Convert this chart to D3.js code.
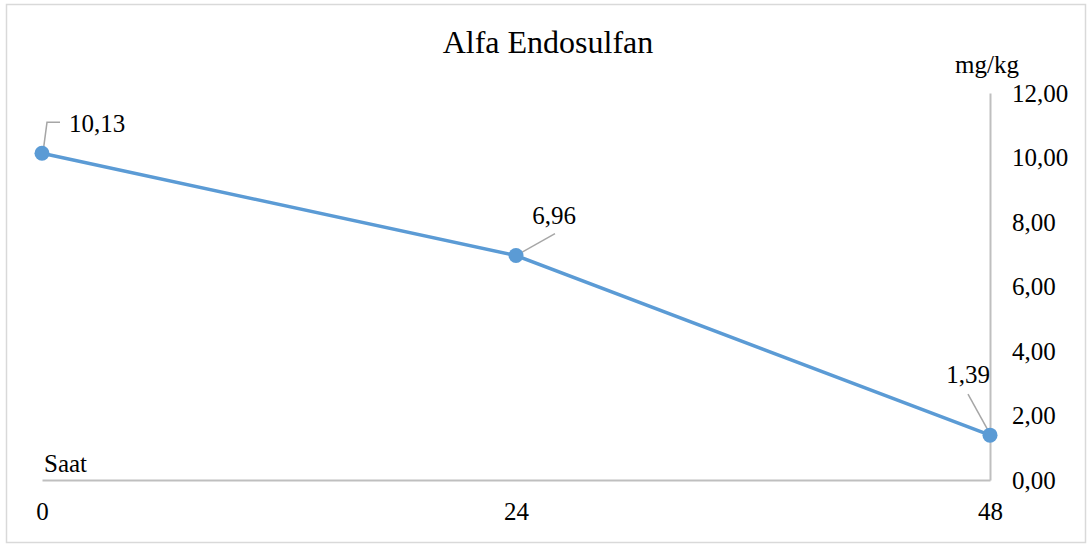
<!DOCTYPE html>
<html>
<head>
<meta charset="utf-8">
<script src="https://cdn.jsdelivr.net/npm/d3@7"></script>
<style>
  html, body { margin: 0; padding: 0; background: #fff; }
</style>
</head>
<body>
<svg id="chart" width="1087" height="546"></svg>
<script>
const title = "Alfa Endosulfan";
const hours = [0, 24, 48];
const values = [10.13, 6.96, 1.39];
const xTicks = [0, 24, 48];
const yTicks = [0, 2, 4, 6, 8, 10, 12];
const yUnit = "mg/kg";
const xUnit = "Saat";

const FONT = '"Liberation Serif", "Times New Roman", serif';
const fmt = v => d3.format(".2f")(v).replace(".", ",");

const svg = d3.select("#chart");

// outer border
svg.append("rect").attr("x", 6.5).attr("y", 4.5).attr("width", 1079).attr("height", 538)
  .attr("fill", "#fff").attr("stroke", "#d9d9d9").attr("stroke-width", 1.5);

const x = d3.scaleLinear().domain([0, 48]).range([42, 990]);
const y = d3.scaleLinear().domain([0, 12]).range([480, 93]);

// title
svg.append("text").attr("x", 548).attr("y", 53).attr("text-anchor", "middle")
  .style("font-family", FONT).style("font-size", "32px").style("fill", "#000").text(title);

// x axis
const xAxis = svg.append("g").attr("transform", `translate(0,${y(0)})`)
  .call(d3.axisBottom(x).tickValues(xTicks).tickSize(0).tickPadding(22).tickFormat(d3.format("d")));
xAxis.select(".domain").attr("stroke", "#bfbfbf").attr("stroke-width", 2);
xAxis.selectAll("text").style("font-family", FONT).style("font-size", "25px").style("fill", "#000");

// y axis on the right
const yAxis = svg.append("g").attr("transform", `translate(${x(48)},0)`)
  .call(d3.axisRight(y).tickValues(yTicks).tickSize(0).tickPadding(22).tickFormat(fmt));
yAxis.select(".domain").attr("stroke", "#bfbfbf").attr("stroke-width", 2);
yAxis.selectAll("text").style("font-family", FONT).style("font-size", "25px").style("fill", "#000");

// unit labels
svg.append("text").attr("x", 955).attr("y", 73)
  .style("font-family", FONT).style("font-size", "25px").style("fill", "#000").text(yUnit);
svg.append("text").attr("x", 44).attr("y", 472)
  .style("font-family", FONT).style("font-size", "25px").style("fill", "#000").text(xUnit);

// line
const pts = hours.map((h, i) => [h, values[i]]);
svg.append("path").datum(pts)
  .attr("fill", "none").attr("stroke", "#5b9bd5").attr("stroke-width", 3.5)
  .attr("stroke-linejoin", "round")
  .attr("d", d3.line().x(d => x(d[0])).y(d => y(d[1])));

// leader lines & labels (offsets are layout, relative to each point)
const labelLayout = [
  { leader: [[1, -1], [5, -31], [18, -31]], tx: 27, ty: -21, anchor: "start" },
  { leader: [[0, 0], [39, -22]], tx: 38, ty: -32, anchor: "middle" },
  { leader: [[-1, -3], [-22, -41]], tx: -22, ty: -52, anchor: "middle" }
];
pts.forEach((p, i) => {
  const px = x(p[0]), py = y(p[1]);
  const L = labelLayout[i];
  svg.append("path")
    .attr("d", d3.line()(L.leader.map(o => [px + o[0], py + o[1]])))
    .attr("fill", "none").attr("stroke", "#a6a6a6").attr("stroke-width", 1.5);
});

svg.selectAll("circle.pt").data(pts).enter().append("circle")
  .attr("class", "pt").attr("cx", d => x(d[0])).attr("cy", d => y(d[1])).attr("r", 7.5)
  .attr("fill", "#5b9bd5");

pts.forEach((p, i) => {
  const px = x(p[0]), py = y(p[1]);
  const L = labelLayout[i];
  svg.append("text").attr("x", px + L.tx).attr("y", py + L.ty)
    .attr("text-anchor", L.anchor)
    .style("font-family", FONT).style("font-size", "25px").style("fill", "#000")
    .text(fmt(p[1]));
});
</script>
</body>
</html>
